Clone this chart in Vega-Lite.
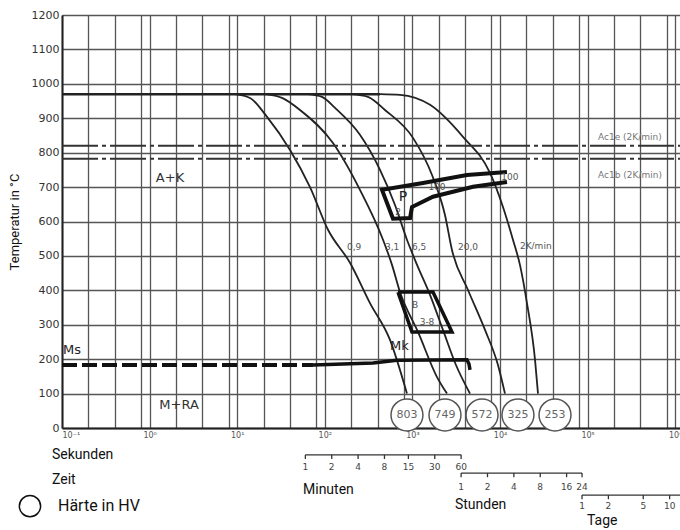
{
  "$schema": "https://vega.github.io/schema/vega-lite/v6.json",
  "width": 618,
  "height": 413,
  "autosize": {"type": "none"},
  "padding": {"left": 62, "top": 15, "right": 0, "bottom": 102},
  "background": "white",
  "config": {"view": {"stroke": null}, "font": "Liberation Sans"},
  "datasets": {
    "curves": [
      {"c": "A", "i": 1, "t": 9.4, "T": 970}, {"c": "A", "i": 2, "t": 14, "T": 959}, {"c": "A", "i": 3, "t": 21.9, "T": 904}, {"c": "A", "i": 4, "t": 40.1, "T": 808}, {"c": "A", "i": 5, "t": 67.8, "T": 700}, {"c": "A", "i": 6, "t": 108.8, "T": 576}, {"c": "A", "i": 7, "t": 194, "T": 480}, {"c": "A", "i": 8, "t": 328, "T": 363}, {"c": "A", "i": 9, "t": 555, "T": 256}, {"c": "A", "i": 10, "t": 867, "T": 100},
      {"c": "B", "i": 1, "t": 20.8, "T": 970}, {"c": "B", "i": 2, "t": 32.5, "T": 959}, {"c": "B", "i": 3, "t": 52.1, "T": 924}, {"c": "B", "i": 4, "t": 124, "T": 828}, {"c": "B", "i": 5, "t": 252, "T": 692}, {"c": "B", "i": 6, "t": 462, "T": 547}, {"c": "B", "i": 7, "t": 585, "T": 474}, {"c": "B", "i": 8, "t": 722, "T": 395}, {"c": "B", "i": 9, "t": 1159, "T": 279}, {"c": "B", "i": 10, "t": 1910, "T": 148}, {"c": "B", "i": 11, "t": 2483, "T": 100},
      {"c": "C", "i": 1, "t": 64.3, "T": 970}, {"c": "C", "i": 2, "t": 92.9, "T": 962}, {"c": "C", "i": 3, "t": 131, "T": 930}, {"c": "C", "i": 4, "t": 252, "T": 852}, {"c": "C", "i": 5, "t": 427, "T": 750}, {"c": "C", "i": 6, "t": 633, "T": 648}, {"c": "C", "i": 7, "t": 867, "T": 547}, {"c": "C", "i": 8, "t": 1130, "T": 474}, {"c": "C", "i": 9, "t": 1589, "T": 387}, {"c": "C", "i": 10, "t": 2234, "T": 285}, {"c": "C", "i": 11, "t": 3145, "T": 183}, {"c": "C", "i": 12, "t": 4548, "T": 100},
      {"c": "D", "i": 1, "t": 205, "T": 970}, {"c": "D", "i": 2, "t": 311, "T": 962}, {"c": "D", "i": 3, "t": 486, "T": 924}, {"c": "D", "i": 4, "t": 1016, "T": 843}, {"c": "D", "i": 5, "t": 1675, "T": 735}, {"c": "D", "i": 6, "t": 2355, "T": 619}, {"c": "D", "i": 7, "t": 2831, "T": 517}, {"c": "D", "i": 8, "t": 4315, "T": 401}, {"c": "D", "i": 9, "t": 6745, "T": 285}, {"c": "D", "i": 10, "t": 9484, "T": 183}, {"c": "D", "i": 11, "t": 11400, "T": 100},
      {"c": "E", "i": 1, "t": 427, "T": 970}, {"c": "E", "i": 2, "t": 722, "T": 968}, {"c": "E", "i": 3, "t": 1589, "T": 939}, {"c": "E", "i": 4, "t": 3781, "T": 846}, {"c": "E", "i": 5, "t": 7690, "T": 741}, {"c": "E", "i": 6, "t": 10820, "T": 642}, {"c": "E", "i": 7, "t": 14060, "T": 547}, {"c": "E", "i": 8, "t": 16900, "T": 474}, {"c": "E", "i": 9, "t": 20320, "T": 363}, {"c": "E", "i": 10, "t": 25120, "T": 198}, {"c": "E", "i": 11, "t": 27160, "T": 100}
    ],
    "austen": [{"t": 0.1, "t2": 427, "T": 970}],
    "ac": [{"name": "Ac1e", "t": 0.1, "t2": 1135000, "T": 820}, {"name": "Ac1b", "t": 0.1, "t2": 1135000, "T": 782}],
    "ms": [{"t": 0.1, "t2": 73.3, "T": 183}],
    "mk": [{"i": 1, "t": 73.3, "T": 183}, {"i": 2, "t": 355, "T": 189}, {"i": 3, "t": 667, "T": 197}, {"i": 4, "t": 4198, "T": 198}, {"i": 5, "t": 4427, "T": 186}, {"i": 6, "t": 4548, "T": 169}],
    "pband": [{"i": 1, "t": 12020, "T": 744}, {"i": 2, "t": 4198, "T": 735}, {"i": 3, "t": 1321, "T": 712}, {"i": 4, "t": 450, "T": 692}, {"i": 5, "t": 601, "T": 608}, {"i": 6, "t": 940, "T": 610}, {"i": 7, "t": 989, "T": 642}, {"i": 8, "t": 1718, "T": 672}, {"i": 9, "t": 4920, "T": 701}, {"i": 10, "t": 12020, "T": 715}],
    "bbox": [{"i": 1, "t": 685, "T": 395}, {"i": 2, "t": 1718, "T": 395}, {"i": 3, "t": 2831, "T": 279}, {"i": 4, "t": 989, "T": 279}, {"i": 5, "t": 685, "T": 395}],
    "hard": [{"lab": "803", "t": 867, "T": 38}, {"lab": "749", "t": 2355, "T": 38}, {"lab": "572", "t": 6237, "T": 38}, {"lab": "325", "t": 16040, "T": 38}, {"lab": "253", "t": 42460, "T": 38}],
    "rates": [{"lab": "0,9", "t": 179, "T": 525}, {"lab": "3,1", "t": 486, "T": 525}, {"lab": "6,5", "t": 989, "T": 525}, {"lab": "20,0", "t": 3318, "T": 525}, {"lab": "2K/min", "t": 16900, "T": 530}],
    "aclab": [{"lab": "Ac1e (2K/min)", "t": 131500, "T": 846}, {"lab": "Ac1b (2K/min)", "t": 131500, "T": 735}],
    "regions": [{"lab": "A+K", "t": 1.71, "T": 727}, {"lab": "M+RA", "t": 2.17, "T": 67}],
    "mlabs": [{"lab": "Ms", "t": 0.103, "T": 227}, {"lab": "Mk", "t": 555, "T": 237}],
    "plab": [{"lab": "P", "t": 781, "T": 672}],
    "small": [{"lab": "2", "t": 685, "T": 628}, {"lab": "100", "t": 1910, "T": 701}, {"lab": "100", "t": 13000, "T": 730}, {"lab": "B", "t": 1072, "T": 358}, {"lab": "3-8", "t": 1468, "T": 308}],
    "scales": [{"s": "Minuten", "t": 60, "t2": 3600, "T": -78}, {"s": "Stunden", "t": 3600, "t2": 86400, "T": -131}, {"s": "Tage", "t": 86400, "t2": 1300000, "T": -195}],
    "sticks": [
      {"lab": "1", "t": 60, "T": -78, "T2": -90, "TL": -113}, {"lab": "2", "t": 120, "T": -78, "T2": -90, "TL": -113}, {"lab": "4", "t": 240, "T": -78, "T2": -90, "TL": -113}, {"lab": "8", "t": 480, "T": -78, "T2": -90, "TL": -113}, {"lab": "15", "t": 900, "T": -78, "T2": -90, "TL": -113}, {"lab": "30", "t": 1800, "T": -78, "T2": -90, "TL": -113}, {"lab": "60", "t": 3600, "T": -78, "T2": -90, "TL": -113},
      {"lab": "1", "t": 3600, "T": -131, "T2": -143, "TL": -172}, {"lab": "2", "t": 7200, "T": -131, "T2": -143, "TL": -172}, {"lab": "4", "t": 14400, "T": -131, "T2": -143, "TL": -172}, {"lab": "8", "t": 28800, "T": -131, "T2": -143, "TL": -172}, {"lab": "16", "t": 57600, "T": -131, "T2": -143, "TL": -172}, {"lab": "24", "t": 86400, "T": -131, "T2": -143, "TL": -172},
      {"lab": "1", "t": 86400, "T": -195, "T2": -207, "TL": -227}, {"lab": "2", "t": 172800, "T": -195, "T2": -207, "TL": -227}, {"lab": "5", "t": 432000, "T": -195, "T2": -207, "TL": -227}, {"lab": "10", "t": 864000, "T": -195, "T2": -207, "TL": -227}
    ],
    "words": [{"lab": "Sekunden", "t": 0.0769, "T": -78}, {"lab": "Zeit", "t": 0.0769, "T": -151}, {"lab": "Minuten", "t": 56.4, "T": -180}, {"lab": "Stunden", "t": 3062, "T": -224}, {"lab": "Tage", "t": 98400, "T": -270}],
    "legend": [{"lab": "Härte in HV", "t": 0.09, "T": -227, "tc": 0.0431}]
  },
  "encoding": {
    "x": {
      "field": "t", "type": "quantitative",
      "scale": {"type": "log", "domain": [0.1, 1135000]},
      "axis": {
        "title": null,
        "values": [0.1, 0.2, 0.4, 0.8, 1, 2, 4, 8, 10, 20, 40, 80, 100, 200, 400, 800, 1000, 2000, 4000, 8000, 10000, 20000, 40000, 80000, 100000, 200000, 400000, 800000, 1000000],
        "grid": true, "gridColor": "#555", "gridWidth": 1.3,
        "ticks": false, "domainColor": "#222", "domainWidth": 2,
        "labelFont": "DejaVu Sans", "labelFontSize": 8, "labelColor": "#555", "labelPadding": 3,
        "labelOverlap": false, "labelFlush": true,
        "labelExpr": "datum.value==0.1?'10⁻¹':datum.value==1?'10⁰':datum.value==10?'10¹':datum.value==100?'10²':datum.value==1000?'10³':datum.value==10000?'10⁴':datum.value==100000?'10⁵':datum.value==1000000?'10⁶':''"
      }
    },
    "y": {
      "field": "T", "type": "quantitative",
      "scale": {"domain": [0, 1200], "nice": false},
      "axis": {
        "title": "Temperatur in °C", "titleFont": "Roboto", "titleFontSize": 13, "titleFontWeight": "normal", "titleColor": "#111", "titlePadding": 10,
        "values": [0, 100, 200, 300, 400, 500, 600, 700, 800, 900, 1000, 1100, 1200], "format": "d",
        "grid": true, "gridColor": "#555", "gridWidth": 1.3,
        "ticks": false, "domainColor": "#222", "domainWidth": 2,
        "labelFont": "DejaVu Sans", "labelFontSize": 11, "labelColor": "#333", "labelPadding": 3
      }
    }
  },
  "layer": [
    {"data": {"name": "curves"}, "mark": {"type": "line", "interpolate": "monotone", "stroke": "#222", "strokeWidth": 1.8}, "encoding": {"detail": {"field": "c"}, "order": {"field": "i", "type": "quantitative"}}},
    {"data": {"name": "austen"}, "mark": {"type": "rule", "stroke": "#222", "strokeWidth": 2.5}, "encoding": {"x2": {"field": "t2"}}},
    {"data": {"name": "ac"}, "mark": {"type": "rule", "stroke": "#333", "strokeWidth": 2, "strokeDash": [36, 4, 4, 4]}, "encoding": {"x2": {"field": "t2"}}},
    {"data": {"name": "ms"}, "mark": {"type": "rule", "stroke": "#111", "strokeWidth": 4, "strokeDash": [15, 5]}, "encoding": {"x2": {"field": "t2"}}},
    {"data": {"name": "mk"}, "mark": {"type": "line", "stroke": "#111", "strokeWidth": 3.5}, "encoding": {"order": {"field": "i", "type": "quantitative"}}},
    {"data": {"name": "pband"}, "mark": {"type": "line", "stroke": "#111", "strokeWidth": 4}, "encoding": {"order": {"field": "i", "type": "quantitative"}}},
    {"data": {"name": "bbox"}, "mark": {"type": "line", "stroke": "#111", "strokeWidth": 3.5}, "encoding": {"order": {"field": "i", "type": "quantitative"}}},
    {"data": {"name": "hard"}, "mark": {"type": "point", "shape": "circle", "filled": true, "fill": "white", "stroke": "#555", "strokeWidth": 1.5, "size": 1020, "opacity": 1}},
    {"data": {"name": "hard"}, "mark": {"type": "text", "font": "DejaVu Sans", "fontSize": 11, "fill": "#666", "align": "center", "baseline": "middle"}, "encoding": {"text": {"field": "lab"}}},
    {"data": {"name": "rates"}, "mark": {"type": "text", "font": "DejaVu Sans", "fontSize": 9, "fill": "#555", "align": "left", "baseline": "middle"}, "encoding": {"text": {"field": "lab"}}},
    {"data": {"name": "aclab"}, "mark": {"type": "text", "font": "DejaVu Sans", "fontSize": 9, "fill": "#777", "align": "left", "baseline": "middle"}, "encoding": {"text": {"field": "lab"}}},
    {"data": {"name": "regions"}, "mark": {"type": "text", "font": "DejaVu Sans", "fontSize": 13, "fill": "#333", "align": "center", "baseline": "middle"}, "encoding": {"text": {"field": "lab"}}},
    {"data": {"name": "mlabs"}, "mark": {"type": "text", "font": "DejaVu Sans", "fontSize": 13, "fill": "#222", "align": "left", "baseline": "middle"}, "encoding": {"text": {"field": "lab"}}},
    {"data": {"name": "plab"}, "mark": {"type": "text", "font": "DejaVu Sans", "fontSize": 14, "fill": "#222", "align": "center", "baseline": "middle"}, "encoding": {"text": {"field": "lab"}}},
    {"data": {"name": "small"}, "mark": {"type": "text", "font": "DejaVu Sans", "fontSize": 9, "fill": "#555", "align": "center", "baseline": "middle"}, "encoding": {"text": {"field": "lab"}}},
    {"data": {"name": "scales"}, "mark": {"type": "rule", "stroke": "#333", "strokeWidth": 1.3}, "encoding": {"x2": {"field": "t2"}}},
    {"data": {"name": "sticks"}, "mark": {"type": "rule", "stroke": "#333", "strokeWidth": 1.3}, "encoding": {"y2": {"field": "T2"}}},
    {"data": {"name": "sticks"}, "mark": {"type": "text", "font": "DejaVu Sans", "fontSize": 9, "fill": "#444", "align": "center", "baseline": "middle"}, "encoding": {"y": {"field": "TL", "type": "quantitative"}, "text": {"field": "lab"}}},
    {"data": {"name": "words"}, "mark": {"type": "text", "font": "Roboto", "fontSize": 14, "fill": "#111", "align": "left", "baseline": "middle"}, "encoding": {"text": {"field": "lab"}}},
    {"data": {"name": "legend"}, "mark": {"type": "text", "font": "Roboto", "fontSize": 16, "fill": "#111", "align": "left", "baseline": "middle"}, "encoding": {"text": {"field": "lab"}}},
    {"data": {"name": "legend"}, "mark": {"type": "point", "shape": "circle", "filled": false, "stroke": "#111", "strokeWidth": 1.5, "size": 452, "opacity": 1}, "encoding": {"x": {"field": "tc", "type": "quantitative"}}}
  ]
}
